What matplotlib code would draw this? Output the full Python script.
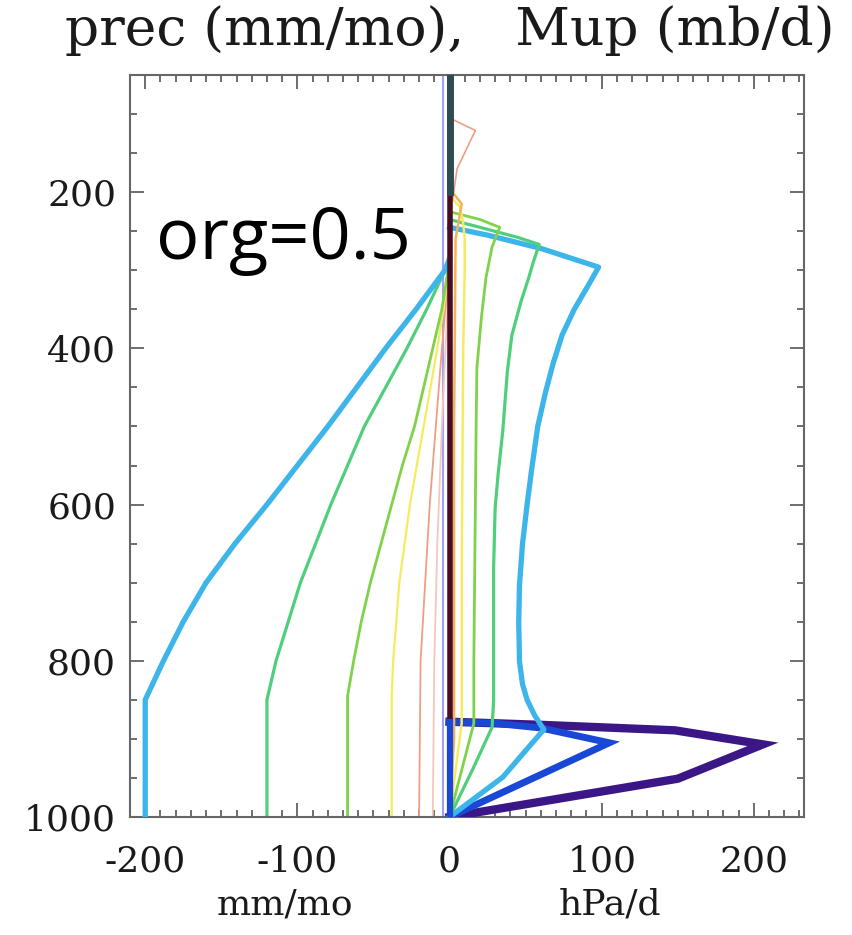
import matplotlib
matplotlib.use("Agg")
import matplotlib.pyplot as plt
import numpy as np

# ---------------- data ----------------
# precipitation profiles (mm/mo), negative side
prec_lblue_p = [285, 300, 350, 400, 450, 500, 550, 600, 650, 700, 750, 800, 850, 1000]
prec_lblue_x = [0, -3, -22, -42, -61, -80, -100, -120, -141, -160, -175, -188, -200, -200]
prec_green_p = [285, 300, 350, 400, 450, 500, 550, 600, 650, 700, 750, 800, 850, 1000]
prec_green_x = [0, -3, -15, -28, -42, -56, -67, -78, -88, -98, -106, -114, -120, -120]
prec_lgreen_p = [290, 300, 350, 400, 450, 500, 550, 600, 650, 700, 750, 800, 845, 1000]
prec_lgreen_x = [0, -1, -5, -11, -17, -23, -31, -38, -45, -52, -58, -63, -67, -67]
prec_yellow_p = [290, 350, 400, 500, 600, 700, 800, 845, 1000]
prec_yellow_x = [0, -4, -8, -17, -26, -33, -37, -38, -38]
prec_salmon_p = [290, 400, 500, 600, 700, 800, 1000]
prec_salmon_x = [0, -5, -9, -13, -16, -19, -20]
prec_pink_p = [290, 500, 650, 800, 1000]
prec_pink_x = [0, -5, -8, -10, -11]
prec_lav_p = [50, 1000]
prec_lav_x = [-4, -4]

# upward mass flux profiles (hPa/d), positive side
mup_purple_p = [878, 882, 889, 907, 951, 1000]
mup_purple_x = [0, 60, 148, 206, 150, 0]
mup_blue_p = [878, 880, 886, 905, 1000]
mup_blue_x = [0, 30, 60, 105, 0]
mup_lblue_p = [245, 255, 272, 296, 320, 350, 383, 420, 457, 500, 555, 600, 650, 703,
               750, 801, 830, 850, 870, 888, 949, 1000]
mup_lblue_x = [0, 25, 60, 98, 91, 82, 74, 68, 63, 58, 54, 51, 48, 46,
               45.5, 46, 48, 51, 56, 62, 35, 0]
mup_green_p = [235, 245, 258, 267, 290, 310, 340, 383, 430, 506, 560, 604, 680, 752,
               850, 885, 940, 1000]
mup_green_x = [0, 20, 45, 59, 55, 52, 47, 41, 38, 35, 32, 30, 29, 29,
               29, 28, 15, 0]
mup_lgreen_p = [225, 235, 245, 270, 309, 360, 425, 500, 600, 700, 800, 880, 940, 1000]
mup_lgreen_x = [0, 20, 33, 28, 24, 21, 18, 17.5, 17, 16.5, 16, 16, 8, 0]
mup_yellow_p = [205, 219, 240, 260, 300, 400, 550, 700, 880, 1000]
mup_yellow_x = [0, 7, 9, 10, 10, 9, 8.5, 8, 8, 0]
mup_orange_p = [195, 215, 260, 500, 900, 1000]
mup_orange_x = [0, 8, 4, 3, 3, 0]
mup_salmon_p = [105, 121, 170, 210]
mup_salmon_x = [0, 17, 5, 2]

zero_dark_p = [50, 878]
zero_blue_p = [878, 1000]
zero_top_p = [50, 200]

xticks = [-200, -100, 0, 100, 200]
yticks = [200, 400, 600, 800, 1000]
xminor = list(range(-210, 240, 10))
yminor = list(range(50, 1001, 50))

# ---------------- colours ----------------
c_purple = "#3a1686"
c_blue = "#1a48d6"
c_lblue = "#3db4ea"
c_green = "#4fcf7c"
c_lgreen = "#80d24a"
c_yellow = "#f4ec60"
c_orange = "#f2b45a"
c_salmon = "#ef9d84"
c_pink = "#f5c7b8"
c_lav = "#a0a0f8"
c_maroon = "#4a0c22"
c_slate = "#2f4b52"

fig = plt.figure(figsize=(8.53, 9.35), dpi=100)
ax = fig.add_axes([130/853, 1-817/935, (804-130)/853, (817-75)/935])

serif = "DejaVu Serif"

# prec lines
ax.plot(prec_lav_x, prec_lav_p, color=c_lav, lw=1.5, zorder=2)
ax.plot(prec_pink_x, prec_pink_p, color=c_pink, lw=1.3, zorder=2)
ax.plot(prec_salmon_x, prec_salmon_p, color=c_salmon, lw=1.3, zorder=2)
ax.plot(prec_yellow_x, prec_yellow_p, color=c_yellow, lw=1.6, zorder=2)
ax.plot(prec_lgreen_x, prec_lgreen_p, color=c_lgreen, lw=2.0, zorder=2)
ax.plot(prec_green_x, prec_green_p, color=c_green, lw=2.3, zorder=2)
ax.plot(prec_lblue_x, prec_lblue_p, color=c_lblue, lw=3.8, zorder=3)

# mass flux lines
ax.plot(mup_purple_x, mup_purple_p, color=c_purple, lw=6, zorder=3, solid_joinstyle="miter")
ax.plot(mup_blue_x, mup_blue_p, color=c_blue, lw=5, zorder=4, solid_joinstyle="miter")
ax.plot(mup_lblue_x, mup_lblue_p, color=c_lblue, lw=3.8, zorder=4)
ax.plot(mup_green_x, mup_green_p, color=c_green, lw=2.3, zorder=4)
ax.plot(mup_lgreen_x, mup_lgreen_p, color=c_lgreen, lw=2.0, zorder=4)
ax.plot(mup_yellow_x, mup_yellow_p, color=c_yellow, lw=1.8, zorder=4)
ax.plot(mup_orange_x, mup_orange_p, color=c_orange, lw=1.8, zorder=4)
ax.plot(mup_salmon_x, mup_salmon_p, color=c_salmon, lw=1.2, zorder=4)

ax.plot([0, 0], zero_dark_p, color=c_maroon, lw=4, zorder=5)
ax.plot([0, 0], zero_blue_p, color=c_blue, lw=4.5, zorder=5)
ax.plot([0, 0], zero_top_p, color=c_slate, lw=5, zorder=6)

ax.set_xlim(-210, 233)
ax.set_ylim(1000, 50)
ax.set_xticks(xticks)
ax.set_yticks(yticks)
ax.set_xticks(xminor, minor=True)
ax.set_yticks(yminor, minor=True)
ax.set_xticklabels([str(v) for v in xticks], family=serif, fontsize=26)
ax.set_yticklabels([str(v) for v in yticks], family=serif, fontsize=26)
ax.tick_params(which="both", direction="in", top=True, right=True, color="#555555", width=1.2)
ax.tick_params(which="major", length=10)
ax.tick_params(which="minor", length=5)
ax.tick_params(axis="x", pad=20, labelcolor="#1a1a1a")
ax.tick_params(axis="y", pad=10, labelcolor="#1a1a1a")
for s in ax.spines.values():
    s.set_color("#666666")
    s.set_linewidth(1.5)

fig.text(0.527, 0.967, "prec (mm/mo),   Mup (mb/d)", family=serif, fontsize=38.5,
         ha="center", va="center", color="#1a1a1a")
fig.text(285/853, 1-905/935, "mm/mo", family=serif, fontsize=26, ha="center", va="center", color="#1a1a1a")
fig.text(610/853, 1-905/935, "hPa/d", family=serif, fontsize=26, ha="center", va="center", color="#1a1a1a")

fig.text(156/853, 1-240/935, "org=0.5", family="Open Sans", fontsize=52, ha="left", va="center",
         color="black", zorder=10)

fig.savefig("out.png", dpi=100)
